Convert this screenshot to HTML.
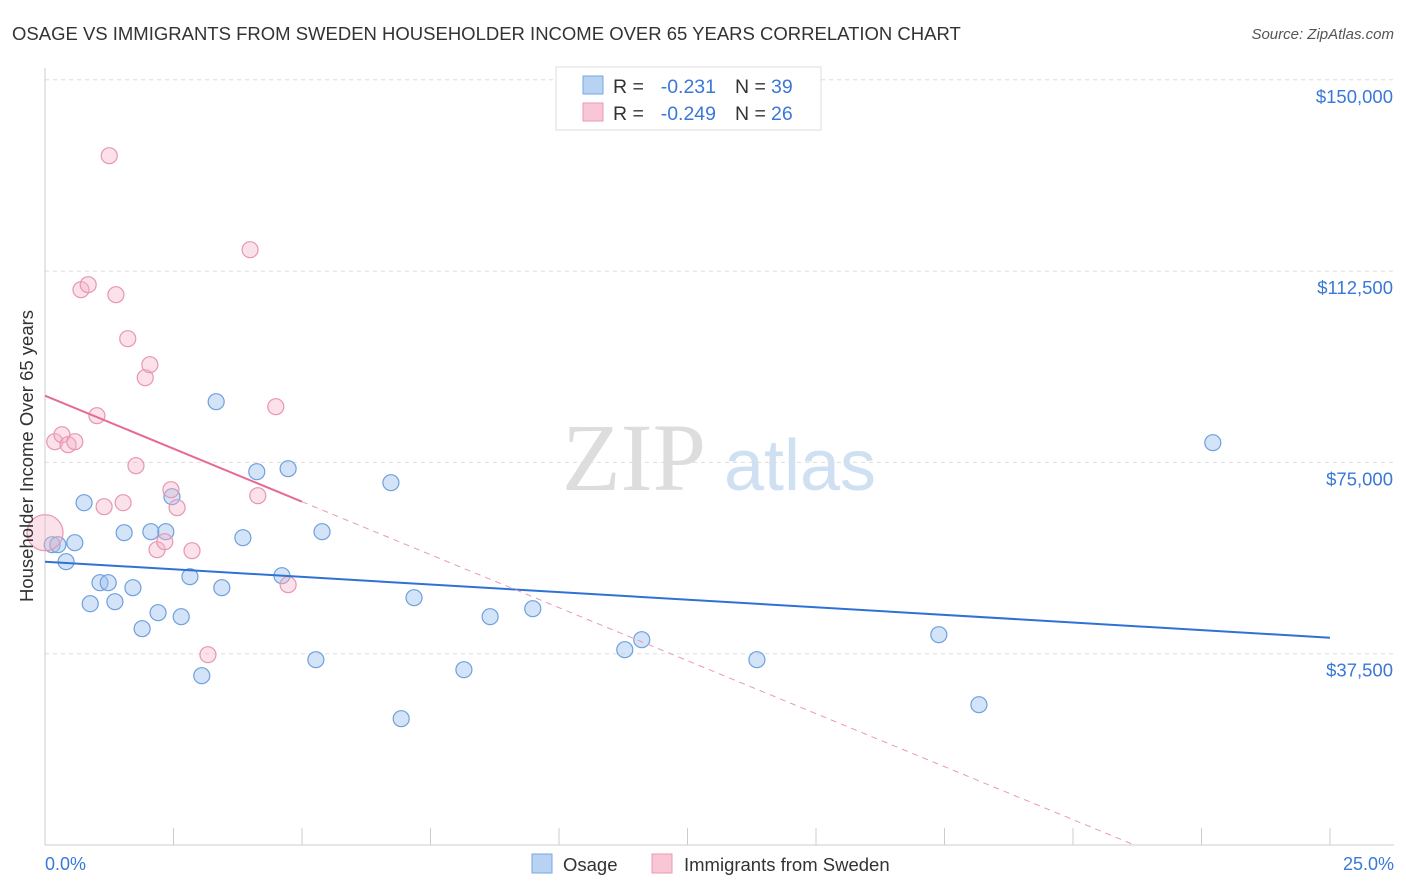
<!DOCTYPE html>
<html><head><meta charset="utf-8"><style>
body{margin:0;background:#fff;font-family:"Liberation Sans",sans-serif;}
#wrap{position:relative;width:1406px;height:892px;overflow:hidden}
</style></head><body>
<div id="wrap">
<svg id="chart" width="1406" height="892">
<text x="12" y="40" font-size="18.5" fill="#333">OSAGE VS IMMIGRANTS FROM SWEDEN HOUSEHOLDER INCOME OVER 65 YEARS CORRELATION CHART</text>
<text x="1394" y="39" font-size="15" fill="#555" font-style="italic" text-anchor="end">Source: ZipAtlas.com</text>
<text x="634" y="490" font-size="96" fill="#ddd" font-family="Liberation Serif,serif" text-anchor="middle">ZIP</text>
<text x="800" y="490" font-size="72" fill="#cfe0f3" text-anchor="middle">atlas</text>
<g id="grid"></g><g id="axes"></g><g id="marks"></g>
<text x="33" y="456" font-size="18.5" fill="#333" text-anchor="middle" transform="rotate(-90 33 456)">Householder Income Over 65 years</text>
<text x="45" y="870" font-size="18" fill="#3a78d8">0.0%</text>
<text x="1394" y="870" font-size="18" fill="#3a78d8" text-anchor="end">25.0%</text>
<g>
<rect x="556" y="67" width="265" height="63" fill="#fff" stroke="#ddd"/>
<rect x="583" y="76" width="20" height="18" fill="#b7d2f3" stroke="#7aa7e0"/>
<rect x="583" y="103" width="20" height="18" fill="#f9c6d5" stroke="#e99ab3"/>
<text x="613" y="93" font-size="19.5" fill="#333">R =</text>
<text x="716" y="93" font-size="19.5" fill="#3a78d8" text-anchor="end">-0.231</text>
<text x="735" y="93" font-size="19.5" fill="#333">N =</text>
<text x="771" y="93" font-size="19.5" fill="#3a78d8">39</text>
<text x="613" y="120" font-size="19.5" fill="#333">R =</text>
<text x="716" y="120" font-size="19.5" fill="#3a78d8" text-anchor="end">-0.249</text>
<text x="735" y="120" font-size="19.5" fill="#333">N =</text>
<text x="771" y="120" font-size="19.5" fill="#3a78d8">26</text>
</g>
<g>
<rect x="532" y="854" width="20" height="19" fill="#b7d2f3" stroke="#7aa7e0"/>
<text x="563" y="871" font-size="18.5" fill="#333">Osage</text>
<rect x="652" y="854" width="20" height="19" fill="#f9c6d5" stroke="#e99ab3"/>
<text x="684" y="871" font-size="18.5" fill="#333">Immigrants from Sweden</text>
</g>
</svg></div>
<script>
const yTicks=[37500,75000,112500,150000];
const yTickLabels=["$37,500","$75,000","$112,500","$150,000"];
const xTicks=[0,2.5,5,7.5,10,12.5,15,17.5,20,22.5,25];
const osageX=[0.14,0.25,0.58,0.41,0.76,0.88,1.07,1.23,1.36,1.54,1.71,1.89,2.06,2.20,2.35,2.47,2.65,2.82,3.05,3.33,3.44,3.85,4.12,4.61,4.73,5.27,5.39,6.73,6.93,7.18,8.15,8.66,9.49,11.28,11.61,13.85,17.39,18.17,22.72];
const osageY=[58867,58867,59259,55535,67100,47300,51418,51418,47694,61220,50438,42400,61416,45537,61416,68277,44753,52594,33187,86900,50438,60240,73177,52790,73766,36324,61416,71021,24758,48478,34364,44753,46321,38284,40244,36324,41225,27502,78862];
const swedenX=[0,0.19,0.33,0.45,0.58,1.01,0.70,0.84,1.15,1.25,1.38,1.52,1.61,1.77,1.95,2.04,2.18,2.33,2.45,2.57,2.86,3.17,3.99,4.14,4.49,4.73];
const swedenY=[61220,79060,80432,78472,79060,84157,108856,109836,66316,135123,107876,67100,99250,74354,91604,94152,57887,59455,69649,66120,57691,37304,116697,68473,85921,51026];
const osageTrend=[55535,40636];
const swedenTrend=[88076,67300];
const NS="http://www.w3.org/2000/svg";
const X=v=>45+v/25*1285, Y=v=>845-v/37500*191.3;
function mk(tag,at,parent){const e=document.createElementNS(NS,tag);for(const k in at)e.setAttribute(k,at[k]);document.getElementById(parent).appendChild(e);return e;}
yTicks.forEach((t,i)=>{
 const l=mk('line',{x1:45,x2:1394,y1:Y(t),y2:Y(t),stroke:'#ddd','stroke-dasharray':'4,4'},'grid');
 
 
 const tx=mk('text',{x:1393,y:Y(t)+23,'font-size':18.5,fill:'#3a78d8','text-anchor':'end'},'axes');
 tx.textContent=yTickLabels[i];
 
 
});
const xa=mk('line',{x1:45,x2:1394,y1:845,y2:845,stroke:'#ccc'},'axes');


const ya=mk('line',{x1:45,x2:45,y1:68,y2:845,stroke:'#ccc'},'axes');


xTicks.forEach(t=>{const l=mk('line',{x1:X(t),x2:X(t),y1:828,y2:845,stroke:'#ccc'},'axes');
 
 });
osageX.forEach((x,i)=>{const c=mk('circle',{cx:X(x),cy:Y(osageY[i]),r:8,fill:'rgba(160,196,240,0.45)',stroke:'#6fa0dc','stroke-width':1.2},'marks');
 
 });
swedenX.forEach((x,i)=>{const c=mk('circle',{cx:X(x),cy:Y(swedenY[i]),r:i==0?18:8,fill:'rgba(245,180,200,0.4)',stroke:'#e896b0','stroke-width':1.2},'marks');
 
 });
const bl=mk('line',{x1:X(0),y1:Y(osageTrend[0]),x2:X(25),y2:Y(osageTrend[1]),stroke:'#2f72d6','stroke-width':2},'marks');


const sl=(swedenTrend[1]-swedenTrend[0])/5;
const pl=mk('line',{x1:X(0),y1:Y(swedenTrend[0]),x2:X(5),y2:Y(swedenTrend[1]),stroke:'#e56b94','stroke-width':2},'marks');


const xEnd=-swedenTrend[0]/sl;
const pd=mk('line',{x1:X(5),y1:Y(swedenTrend[1]),x2:X(xEnd),y2:Y(0),stroke:'#e99ab3','stroke-width':1,'stroke-dasharray':'6,5'},'marks');


</script>
</body></html>
